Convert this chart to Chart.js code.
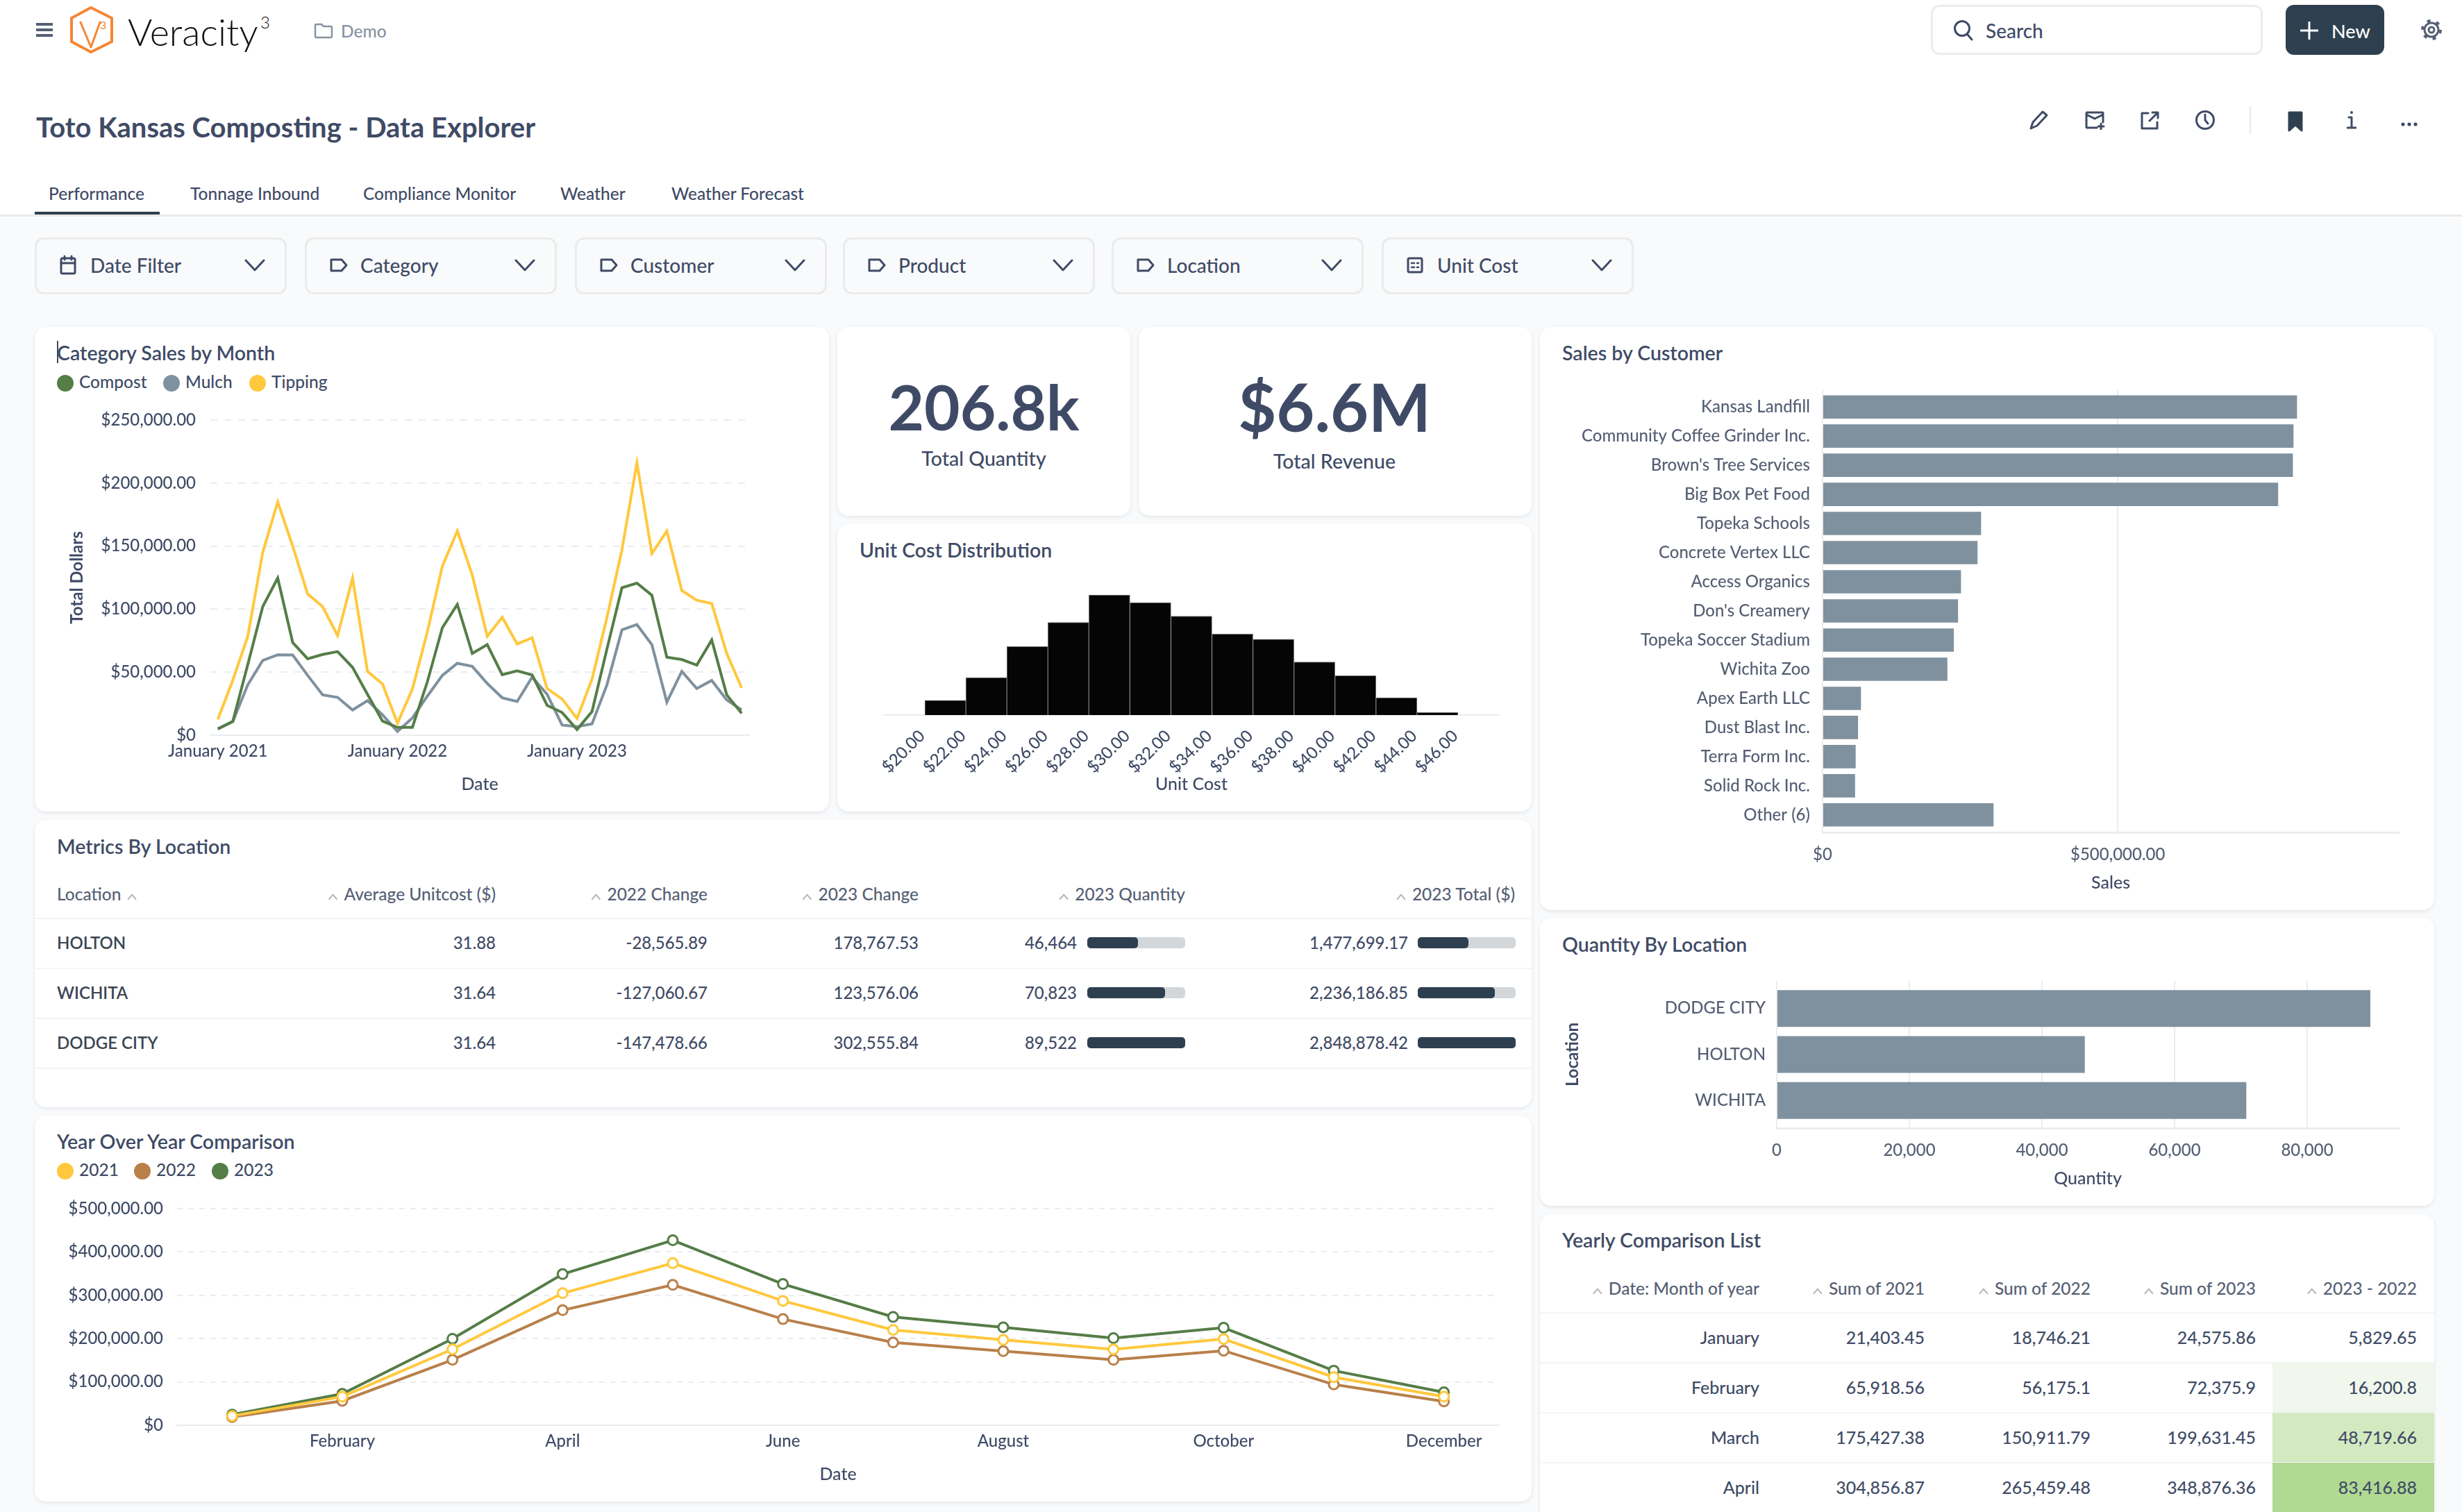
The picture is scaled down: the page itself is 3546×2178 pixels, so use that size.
<!DOCTYPE html>
<html>
<head>
<meta charset="utf-8">
<title>Toto Kansas Composting - Data Explorer</title>
<script src="https://cdn.jsdelivr.net/npm/chart.js@4"></script>
<style>
  html, body { margin: 0; padding: 0; background: #f9fafb; }
  body { position: relative; width: 3546px; height: 2178px; overflow: hidden; font-family: Lato, sans-serif; color: #3f4b66; }
  .abs { position: absolute; }
  .txt { position: absolute; white-space: nowrap; line-height: 1; }
  .card { position: absolute; background: #fff; border-radius: 16px; box-shadow: 0 2px 5px rgba(40,50,70,.10); }
  .filter { position: absolute; top: 342px; height: 76px; border: 3px solid #ebebeb; border-radius: 13px; box-sizing: content-box; }
  canvas { position: absolute; }
</style>
</head>
<body>
<script>
// ---- data ----
const salesMonths = [
  'January 2021','February 2021','March 2021','April 2021','May 2021','June 2021','July 2021','August 2021','September 2021','October 2021','November 2021','December 2021',
  'January 2022','February 2022','March 2022','April 2022','May 2022','June 2022','July 2022','August 2022','September 2022','October 2022','November 2022','December 2022',
  'January 2023','February 2023','March 2023','April 2023','May 2023','June 2023','July 2023','August 2023','September 2023','October 2023','November 2023','December 2023'
];
const compostSales = [5000,11000,56000,102000,124600,73500,60600,64000,66300,53800,32400,11200,6200,6200,42400,85200,103700,64800,71800,48000,51000,47800,23700,18000,4500,18700,68500,117000,120600,111000,61800,60000,55600,75500,32000,17400];
const mulchSales = [5000,10700,40000,59300,63800,63600,47400,32000,30000,20000,27400,16200,3000,13700,31000,47400,57000,54600,41000,29700,26700,46000,32400,8000,6700,9000,40000,83500,87700,71800,26200,50600,37000,43400,28000,20000];
const tippingSales = [12500,43600,78500,145000,185000,150000,112000,102000,79000,124600,50600,40600,9500,36600,82000,134000,162000,127000,78500,93500,72300,77300,37000,28700,13200,44400,93500,147000,216000,144000,162000,114700,107000,104500,65000,37400];

const unitCostBins = [21,23,25,27,29,31,33,35,37,39,41,43,45];
const unitCostCounts = [47,119,218,295,382,358,315,258,241,169,125,55,8];

const customerNames = ['Kansas Landfill','Community Coffee Grinder Inc.',"Brown's Tree Services",'Big Box Pet Food','Topeka Schools','Concrete Vertex LLC','Access Organics',"Don's Creamery",'Topeka Soccer Stadium','Wichita Zoo','Apex Earth LLC','Dust Blast Inc.','Terra Form Inc.','Solid Rock Inc.','Other (6)'];
const customerSales = [803600,797600,796600,771600,268500,262500,234500,229500,222400,211400,65100,60100,56100,55100,289600];
const customerTicks = [0,500000];

const locationNames = ['DODGE CITY','HOLTON','WICHITA'];
const locationQuantity = [89522,46464,70823];
const quantityTicks = [0,20000,40000,60000,80000];

const monthNames = ['January','February','March','April','May','June','July','August','September','October','November','December'];
const sales2021 = [21403.45,65918.56,175427.38,304856.87,374000,287000,220000,197000,175000,199000,111000,66000];
const sales2022 = [18746.21,56175.1,150911.79,265459.48,324000,245000,191000,171000,151000,172000,94000,55000];
const sales2023 = [24575.86,72375.9,199631.45,348876.36,427000,326000,250000,226000,201000,225000,126000,76000];

const metricsHeaders = ['Average Unitcost ($)','2022 Change','2023 Change','2023 Quantity','2023 Total ($)'];
const metricsLocations = ['HOLTON','WICHITA','DODGE CITY'];
const metricsUnitCost = ['31.88','31.64','31.64'];
const metricsChange22 = ['-28,565.89','-127,060.67','-147,478.66'];
const metricsChange23 = ['178,767.53','123,576.06','302,555.84'];
const metricsQuantity = [46464,70823,89522];
const metricsTotal = [1477699.17,2236186.85,2848878.42];

const yearlyHeaders = ['Date: Month of year','Sum of 2021','Sum of 2022','Sum of 2023','2023 - 2022'];
const yearlyMonths = ['January','February','March','April'];
const yearlySum21 = ['21,403.45','65,918.56','175,427.38','304,856.87'];
const yearlySum22 = ['18,746.21','56,175.1','150,911.79','265,459.48'];
const yearlySum23 = ['24,575.86','72,375.9','199,631.45','348,876.36'];
const yearlyDiff = ['5,829.65','16,200.8','48,719.66','83,416.88'];

const tabNames = ['Performance','Tonnage Inbound','Compliance Monitor','Weather','Weather Forecast'];
const filterNames = ['Date Filter','Category','Customer','Product','Location','Unit Cost'];

// ---- colours ----
const GREEN = '#557d47', SLATE = '#7f919e', YELLOW = '#ffc83d', BRONZE = '#b9804a';
const INK = '#3f4b66', TICK = '#566074', GRID = '#ebecee', NAVY = '#2e4050';

// ---- dom helpers ----
function addText(str, x, cy, size, opts = {}) {
  const el = document.createElement('div');
  el.className = 'txt';
  el.textContent = str;
  el.style.left = x + 'px';
  el.style.top = (cy - 2) + 'px'; // Lato sits a little low in its line box
  el.style.fontSize = size + 'px';
  el.style.fontWeight = opts.weight || 500;
  el.style.color = opts.color || INK;
  const shift = opts.align === 'right' ? '-100%' : opts.align === 'center' ? '-50%' : '0';
  el.style.transform = `translate(${shift}, -50%)`;
  document.body.appendChild(el);
  return el;
}
function addBox(x, y, w, h, css) {
  const el = document.createElement('div');
  el.className = 'abs';
  el.style.cssText += `left:${x}px;top:${y}px;width:${w}px;height:${h}px;${css || ''}`;
  document.body.appendChild(el);
  return el;
}
function addCard(b) {
  const el = document.createElement('div');
  el.className = 'card';
  el.style.cssText += `left:${b.x}px;top:${b.y}px;width:${b.w}px;height:${b.h}px;`;
  document.body.appendChild(el);
}
function addSvg(x, y, w, h, inner) {
  const el = addBox(x, y, w, h);
  el.innerHTML = `<svg xmlns="http://www.w3.org/2000/svg" width="${w}" height="${h}" viewBox="0 0 ${w} ${h}" fill="none" stroke="${INK}" stroke-width="3" stroke-linecap="round" stroke-linejoin="round">${inner}</svg>`;
  return el;
}
function addLegend(names, colors, startXs, cy) {
  names.forEach((name, i) => {
    addBox(startXs[i], cy - 12, 24, 24, `border-radius:50%;background:${colors[i]}`);
    addText(name, startXs[i] + 32, cy, 24.5);
  });
}
function addCanvas(b) {
  const c = document.createElement('canvas');
  c.width = b.w; c.height = b.h;
  c.style.left = b.x + 'px'; c.style.top = b.y + 'px';
  document.body.appendChild(c);
  return c;
}

// ---- page chrome ----
addBox(0, 0, 3546, 309, 'background:#fff');
addBox(0, 309, 3546, 3, 'background:#eceaea');

addSvg(52, 33, 24, 20, `<path d="M0 2h24M0 10h24M0 18h24" stroke="#566074" stroke-width="4" stroke-linecap="butt"/>`);
addSvg(98, 8, 68, 70, `<polygon points="33,3 63,18 63,52 33,67 5,52 5,18" stroke="#f58634" stroke-width="4"/><path d="M18 24 L33 60 L46 24" stroke="#f58634" stroke-width="3"/><text x="46" y="34" font-size="16" fill="#f58634" stroke="none" font-family="Lato">3</text>`);
addText('Veracity', 184, 48, 54, { weight: 300, color: '#111' });
addText('3', 375, 34, 24, { weight: 300, color: '#111' });
addSvg(452, 32, 28, 24, `<path d="M2 5 a2 2 0 0 1 2 -2 h7 l3 3 h10 a2 2 0 0 1 2 2 v12 a2 2 0 0 1 -2 2 h-20 a2 2 0 0 1 -2 -2 z" stroke="#8792a2" stroke-width="2.5"/>`);
addText('Demo', 491, 47, 24.5, { color: '#8792a2' });

addBox(2781, 7, 478, 72, 'box-sizing:border-box;border:3px solid #ececec;border-radius:12px;background:#fff');
addSvg(2812, 28, 32, 32, `<circle cx="14" cy="13" r="10.5"/><path d="M22 22 L28 29"/>`);
addText('Search', 2860, 46, 28);
addBox(3292, 7, 142, 72, `background:${NAVY};border-radius:12px`);
addSvg(3313, 31, 26, 26, `<path d="M13 1v24M1 13h24" stroke="#fff" stroke-width="3"/>`);
addText('New', 3358, 46, 27, { color: '#fff' });
addSvg(3486, 27, 32, 32, `<circle cx="16" cy="16" r="10" stroke="#566074"/><circle cx="16" cy="16" r="13" stroke="#566074" stroke-width="4" stroke-dasharray="5 8.6" stroke-linecap="butt"/><circle cx="16" cy="16" r="4" stroke="#566074"/>`);

addText('Toto Kansas Composting - Data Explorer', 52, 185, 40, { weight: 700 });

const tabXs = [70, 274, 523, 807, 967];
tabNames.forEach((t, i) => addText(t, tabXs[i], 281, 24.5, { color: INK }));
addBox(50, 305, 180, 4, `background:${NAVY}`);

// toolbar icons
addSvg(2922, 158, 30, 30, `<path d="M3 27 l3 -9 L20 3 l6 5 L12 23 z"/>`);
addSvg(3002, 159, 30, 28, `<path d="M18 25 H4 a1 1 0 0 1 -1 -1 V4 a1 1 0 0 1 1 -1 h22 a1 1 0 0 1 1 1 v13 M3 6 l12 6 12 -6 M24 19 v8 M20 23 h8"/>`);
addSvg(3082, 159, 28, 28, `<path d="M12 4 H3 v22 h22 v-9 M14 15 L26 3 M18 3 h8 v8"/>`);
addSvg(3161, 158, 30, 30, `<circle cx="15" cy="15" r="12.5"/><path d="M15 7 v8 l4 5"/>`);
addBox(3240, 153, 2, 40, 'background:#e8e9ec');
addSvg(3295, 160, 22, 30, `<path d="M2 2 h18 v26 l-9 -8 l-9 8 z" fill="${NAVY}" stroke="${NAVY}"/>`);
addSvg(3380, 160, 14, 26, `<circle cx="7" cy="2" r="2" fill="${INK}" stroke="none"/><path d="M3 9 h4 v15 M1 24 h12"/>`);
addSvg(3458, 168, 26, 10, `<circle cx="3" cy="5" r="2.6" fill="${INK}" stroke="none"/><circle cx="12" cy="5" r="2.6" fill="${INK}" stroke="none"/><circle cx="21" cy="5" r="2.6" fill="${INK}" stroke="none"/>`);

// filters
const filterXs = [50, 439, 828, 1214, 1601, 1990];
filterNames.forEach((name, i) => {
  const x = filterXs[i];
  const el = document.createElement('div');
  el.className = 'filter';
  el.style.left = x + 'px';
  el.style.width = '357px';
  document.body.appendChild(el);
  if (i === 0) addSvg(x + 35, 367, 26, 30, `<rect x="3" y="5" width="20" height="22" rx="2"/><path d="M3 12h20M8 2v5M18 2v5"/>`);
  else if (i === 5) addSvg(x + 35, 369, 26, 26, `<rect x="3" y="3" width="20" height="20" rx="2"/><path d="M8 10h4M8 16h4M16 10h2M16 16h2" stroke-width="2.5"/>`);
  else addSvg(x + 35, 370, 28, 24, `<path d="M3 4 h15 l7 8 l-7 8 h-15 z"/>`);
  addText(name, x + 80, 384, 28);
  addSvg(x + 302, 372, 30, 20, `<path d="M2 3 L15 17 L28 3"/>`);
});

// ---- cards ----
const salesBox = { x: 50, y: 471, w: 1144, h: 698 };
const kpiBoxA = { x: 1206, y: 471, w: 422, h: 272 };
const kpiBoxB = { x: 1640, y: 471, w: 566, h: 272 };
const unitBox = { x: 1206, y: 755, w: 1000, h: 414 };
const metricsBox = { x: 50, y: 1181, w: 2156, h: 414 };
const yoyBox = { x: 50, y: 1607, w: 2156, h: 556 };
const customerBox = { x: 2218, y: 471, w: 1288, h: 840 };
const quantityBox = { x: 2218, y: 1322, w: 1288, h: 415 };
const yearlyBox = { x: 2218, y: 1749, w: 1288, h: 460 };
[salesBox, kpiBoxA, kpiBoxB, unitBox, metricsBox, yoyBox, customerBox, quantityBox, yearlyBox].forEach(addCard);

const cardTitle = (t, x, cy) => addText(t, x, cy, 28.5, { weight: 600 });
cardTitle('Category Sales by Month', 82, 510);
addBox(82, 491, 2, 32, `background:${INK}`);
addLegend(['Compost','Mulch','Tipping'], [GREEN, SLATE, YELLOW], [82, 235, 359], 552);

addText('206.8k', 1417, 587, 89, { weight: 700, align: 'center' });
addText('Total Quantity', 1417, 662, 28.5, { align: 'center' });
addText('$6.6M', 1922, 587, 95, { weight: 700, align: 'center' });
addText('Total Revenue', 1922, 666, 28.5, { align: 'center' });
cardTitle('Unit Cost Distribution', 1238, 794);
cardTitle('Metrics By Location', 82, 1221);
cardTitle('Year Over Year Comparison', 82, 1646);
addLegend(['2021','2022','2023'], [YELLOW, BRONZE, GREEN], [82, 193, 305], 1687);
cardTitle('Sales by Customer', 2250, 510);
cardTitle('Quantity By Location', 2250, 1362);
cardTitle('Yearly Comparison List', 2250, 1788);

// ---- tables ----
function headerCell(label, x, cy, caretAfter) {
  const el = addText(label, x, cy, 24.5, { color: '#566074', align: caretAfter ? undefined : 'right' });
  const left = caretAfter ? el.offsetWidth + 8 : -24;
  const caret = document.createElement('div');
  caret.style.cssText = `position:absolute;left:${left}px;top:0;width:16px;height:10px;`;
  caret.innerHTML = `<svg width="16" height="10" viewBox="0 0 16 10" fill="none" stroke="#b4b9c2" stroke-width="2"><path d="M2 9 L8 2 L14 9"/></svg>`;
  el.appendChild(caret);
}

const metricsRight = [714, 1019, 1323, 1707, 2182];
headerCell('Location', 82, 1290, true);
metricsHeaders.forEach((h, i) => headerCell(h, metricsRight[i], 1290));
[1322, 1394, 1466, 1538].forEach(y => addBox(50, y, 2156, 2, 'background:#f4f5f6'));

const maxQuantity = Math.max(...metricsQuantity);
const maxTotal = Math.max(...metricsTotal);
function miniBar(x, cy, frac) {
  addBox(x, cy - 8, 141, 16, 'background:#d3d7da;border-radius:5px');
  addBox(x, cy - 8, 141 * frac, 16, `background:${NAVY};border-radius:5px`);
}
metricsLocations.forEach((loc, i) => {
  const cy = 1358 + i * 72;
  addText(loc, 82, cy + 2, 24, { weight: 600, color: '#3a4652' });
  addText(metricsUnitCost[i], metricsRight[0], cy + 2, 24, { align: 'right' });
  addText(metricsChange22[i], metricsRight[1], cy + 2, 24, { align: 'right' });
  addText(metricsChange23[i], metricsRight[2], cy + 2, 24, { align: 'right' });
  addText(metricsQuantity[i].toLocaleString('en-US'), 1551, cy + 2, 24, { align: 'right' });
  miniBar(1566, cy, metricsQuantity[i] / maxQuantity);
  addText(metricsTotal[i].toLocaleString('en-US', { minimumFractionDigits: 2 }), 2028, cy + 2, 24, { align: 'right' });
  miniBar(2042, cy, metricsTotal[i] / maxTotal);
});

const yearlyRight = [2534, 2772, 3011, 3249, 3481];
const yearlyCellFill = [null, '#f1f7ec', '#d3e9c0', '#b0d992'];
yearlyHeaders.forEach((h, i) => headerCell(h, yearlyRight[i], 1858));
[1890, 1962, 2034, 2106].forEach(y => addBox(2218, y, 1288, 2, 'background:#f4f5f6'));
yearlyMonths.forEach((m, i) => {
  const cy = 1926 + i * 72;
  if (yearlyCellFill[i]) addBox(3273, cy - 35, 233, 71, `background:${yearlyCellFill[i]}`);
  addText(m, yearlyRight[0], cy + 2, 25, { align: 'right' });
  addText(yearlySum21[i], yearlyRight[1], cy + 2, 25, { align: 'right' });
  addText(yearlySum22[i], yearlyRight[2], cy + 2, 25, { align: 'right' });
  addText(yearlySum23[i], yearlyRight[3], cy + 2, 25, { align: 'right' });
  addText(yearlyDiff[i], yearlyRight[4], cy + 2, 25, { align: 'right' });
});

// ---- charts ----
Chart.defaults.font.family = 'Lato';
Chart.defaults.font.size = 24;
Chart.defaults.font.weight = '500';
Chart.defaults.color = INK;
Chart.defaults.animation = false;
Chart.defaults.responsive = false;
Chart.defaults.plugins.legend.display = false;
Chart.defaults.plugins.tooltip.enabled = false;

const dollars = v => v === 0 ? '$0' : '$' + v.toLocaleString('en-US', { minimumFractionDigits: 2 });
const axisTitle = (text, bottom) => ({ display: true, text, color: INK, font: { size: 25, weight: '500' }, padding: { top: 0, bottom } });
// left side titles are offset by padding.top, not bottom
const sideTitle = (text, inset) => ({ display: true, text, color: INK, font: { size: 24, weight: '700' }, padding: { top: inset, bottom: 0 } });

// Category Sales by Month
new Chart(addCanvas(salesBox), {
  type: 'line',
  data: {
    labels: salesMonths,
    datasets: [
      { label: 'Tipping', data: tippingSales, borderColor: YELLOW },
      { label: 'Compost', data: compostSales, borderColor: GREEN },
      { label: 'Mulch', data: mulchSales, borderColor: SLATE }
    ]
  },
  options: {
    layout: { padding: { top: 134, right: 115 } },
    elements: { line: { borderWidth: 4, tension: 0 }, point: { radius: 0 } },
    scales: {
      x: {
        offset: true,
        grid: { display: false },
        border: { color: GRID, width: 2 },
        ticks: { autoSkip: false, maxRotation: 0, padding: 1, callback(v, i) { return i % 12 === 0 ? salesMonths[i] : ''; } },
        title: axisTitle('Date', 24),
        afterFit(s) { s.height = 110; }
      },
      y: {
        min: 0, max: 250000,
        grid: { color: GRID, lineWidth: 2, drawTicks: false },
        border: { display: false, dash: [10, 10] },
        ticks: { stepSize: 50000, padding: 21, callback: dollars },
        title: sideTitle('Total Dollars', 47),
        afterFit(s) { s.width = 253; }
      }
    }
  }
});

// Unit Cost Distribution
new Chart(addCanvas(unitBox), {
  type: 'bar',
  data: {
    datasets: [{
      data: unitCostBins.map((b, i) => ({ x: b, y: unitCostCounts[i] })),
      backgroundColor: '#050505',
      borderColor: '#777',
      borderWidth: 1,
      barPercentage: 1,
      categoryPercentage: 1
    }]
  },
  options: {
    layout: { padding: { top: 75, left: 67, right: 47 } },
    scales: {
      x: {
        type: 'linear', min: 18, max: 48, offset: false,
        grid: { display: false },
        border: { color: GRID, width: 2 },
        afterBuildTicks(s) { s.ticks = s.ticks.filter(t => t.value >= 20 && t.value <= 46); },
        ticks: { stepSize: 2, minRotation: 45, maxRotation: 45, autoSkip: false, padding: 8, labelOffset: -4, color: INK, callback: v => '$' + v.toFixed(2) },
        title: axisTitle('Unit Cost', 24),
        afterFit(s) { s.height = 139; }
      },
      y: { display: false, min: 0, max: 442 }
    }
  }
});

// Sales by Customer - index axis kept linear so the gutters above/below the bars match
new Chart(addCanvas(customerBox), {
  type: 'bar',
  data: {
    datasets: [{
      data: customerSales.map((v, i) => ({ x: v, y: i })),
      backgroundColor: SLATE,
      barPercentage: 0.8,
      categoryPercentage: 1
    }]
  },
  options: {
    indexAxis: 'y',
    layout: { padding: { top: 90, right: 51 } },
    scales: {
      x: {
        min: 0, max: 976000, bounds: 'data',
        grid: { color: GRID, lineWidth: 2, drawTicks: false },
        border: { color: GRID, width: 3 },
        afterBuildTicks(s) { s.ticks = customerTicks.map(value => ({ value })); },
        ticks: { autoSkip: false, maxRotation: 0, padding: 18, color: TICK, callback: dollars },
        title: axisTitle('Sales', 24),
        afterFit(s) { s.height = 112; }
      },
      y: {
        type: 'linear', reverse: true, min: -0.6, max: 14.6, bounds: 'data', offset: false,
        grid: { display: false },
        border: { display: false },
        afterBuildTicks(s) { s.ticks = customerNames.map((n, i) => ({ value: i })); },
        ticks: { autoSkip: false, padding: 10, color: TICK, callback: v => customerNames[v] },
        afterFit(s) { s.width = 407; }
      }
    }
  }
});

// Quantity By Location
new Chart(addCanvas(quantityBox), {
  type: 'bar',
  data: {
    datasets: [{
      data: locationQuantity.map((v, i) => ({ x: v, y: i })),
      backgroundColor: SLATE,
      barPercentage: 0.8,
      categoryPercentage: 1
    }]
  },
  options: {
    indexAxis: 'y',
    layout: { padding: { top: 91, right: 51 } },
    scales: {
      x: {
        min: 0, max: 93822, bounds: 'data',
        grid: { color: GRID, lineWidth: 2, drawTicks: false },
        border: { color: GRID, width: 3 },
        afterBuildTicks(s) { s.ticks = quantityTicks.map(value => ({ value })); },
        ticks: { autoSkip: false, maxRotation: 0, padding: 18, color: TICK, callback: v => v.toLocaleString('en-US') },
        title: axisTitle('Quantity', 24),
        afterFit(s) { s.height = 112; }
      },
      y: {
        type: 'linear', reverse: true, min: -0.6, max: 2.6, bounds: 'data', offset: false,
        grid: { display: false },
        border: { display: false },
        afterBuildTicks(s) { s.ticks = locationNames.map((n, i) => ({ value: i })); },
        ticks: { autoSkip: false, padding: 8, color: TICK, callback: v => locationNames[v] },
        title: sideTitle('Location', 33),
        afterFit(s) { s.width = 341; }
      }
    }
  }
});

// Year Over Year Comparison
const yoySeries = (label, data, color) => ({
  label, data, borderColor: color, borderWidth: 4, tension: 0,
  pointRadius: 7, pointBorderWidth: 3, pointBackgroundColor: '#fff', pointBorderColor: color
});
new Chart(addCanvas(yoyBox), {
  type: 'line',
  data: {
    labels: monthNames,
    datasets: [yoySeries('2021', sales2021, YELLOW), yoySeries('2022', sales2022, BRONZE), yoySeries('2023', sales2023, GREEN)]
  },
  options: {
    layout: { padding: { top: 134, right: 47 } },
    scales: {
      x: {
        offset: true,
        grid: { display: false },
        border: { color: GRID, width: 2 },
        ticks: { autoSkip: false, maxRotation: 0, padding: 1, callback(v, i) { return i % 2 === 1 ? monthNames[i] : ''; } },
        title: axisTitle('Date', 24),
        afterFit(s) { s.height = 110; }
      },
      y: {
        min: 0, max: 500000,
        grid: { color: GRID, lineWidth: 2, drawTicks: false },
        border: { display: false, dash: [8, 8] },
        ticks: { stepSize: 100000, padding: 20, callback: dollars },
        afterFit(s) { s.width = 205; }
      }
    }
  }
});
</script>
</body>
</html>
